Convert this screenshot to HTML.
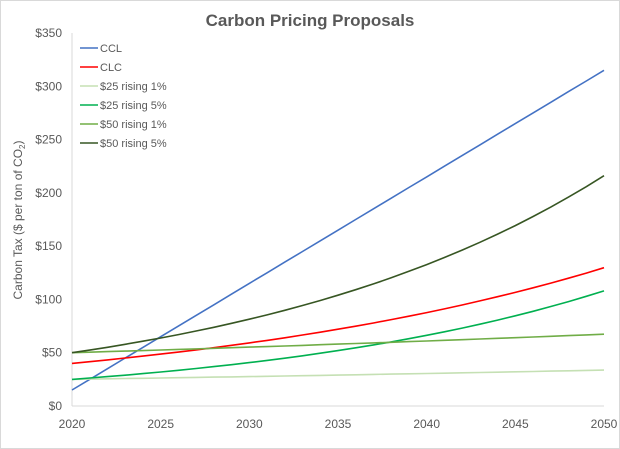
<!DOCTYPE html>
<html><head><style>
html,body{margin:0;padding:0;background:#fff;}
svg{display:block;font-family:"Liberation Sans",sans-serif;}
</style></head><body>
<svg id="c" width="620" height="449" viewBox="0 0 620 449">
<rect x="0.5" y="0.5" width="619" height="448" fill="#fff" stroke="#d9d9d9"/>
<text x="310" y="26" text-anchor="middle" font-size="17" font-weight="bold" fill="#595959">Carbon Pricing Proposals</text>
<line x1="72" y1="33" x2="72" y2="406" stroke="#d9d9d9"/>
<line x1="72" y1="406" x2="604" y2="406" stroke="#d9d9d9"/>
<text transform="translate(22,220) rotate(-90)" text-anchor="middle" font-size="12" fill="#595959">Carbon Tax ($ per ton of CO<tspan font-size="8" dy="3">2</tspan><tspan dy="-3">)</tspan></text>
<g id="yt" font-size="12" fill="#595959" text-anchor="end"></g>
<g id="xt" font-size="12" fill="#595959" text-anchor="middle"></g>
<g id="lines" fill="none" stroke-width="1.6"></g>
<g id="leg" font-size="11" fill="#595959"></g>
</svg>
<script>
var X=function(t){return 72+(t-2020)*532/30;},Y=function(v){return 406-v*373/350;};
var ns="http://www.w3.org/2000/svg";
function el(p,n,a,txt){var e=document.createElementNS(ns,n);for(var k in a)e.setAttribute(k,a[k]);if(txt)e.textContent=txt;document.getElementById(p).appendChild(e);}
for(var v=0;v<=350;v+=50)el("yt","text",{x:62,y:Y(v)+4},"$"+v);
for(var t=2020;t<=2050;t+=5)el("xt","text",{x:X(t),y:428},""+t);
var S=[["CCL","#4472C4",function(n){return 15+10*n;}],
["CLC","#FF0000",function(n){return 40*Math.pow(1.04,n);}],
["$25 rising 1%","#C5E0B4",function(n){return 25*Math.pow(1.01,n);}],
["$25 rising 5%","#00B050",function(n){return 25*Math.pow(1.05,n);}],
["$50 rising 1%","#70AD47",function(n){return 50*Math.pow(1.01,n);}],
["$50 rising 5%","#375623",function(n){return 50*Math.pow(1.05,n);}]];
S.forEach(function(s,i){var pts=[];for(var n=0;n<=30;n++)pts.push(X(2020+n).toFixed(1)+","+Y(s[2](n)).toFixed(1));
el("lines","polyline",{points:pts.join(" "),stroke:s[1]});
var ly=48+i*19;el("leg","line",{x1:80,y1:ly,x2:98,y2:ly,stroke:s[1],"stroke-width":1.6});
el("leg","text",{x:100,y:ly+4},s[0]);});
</script>
</body></html>
